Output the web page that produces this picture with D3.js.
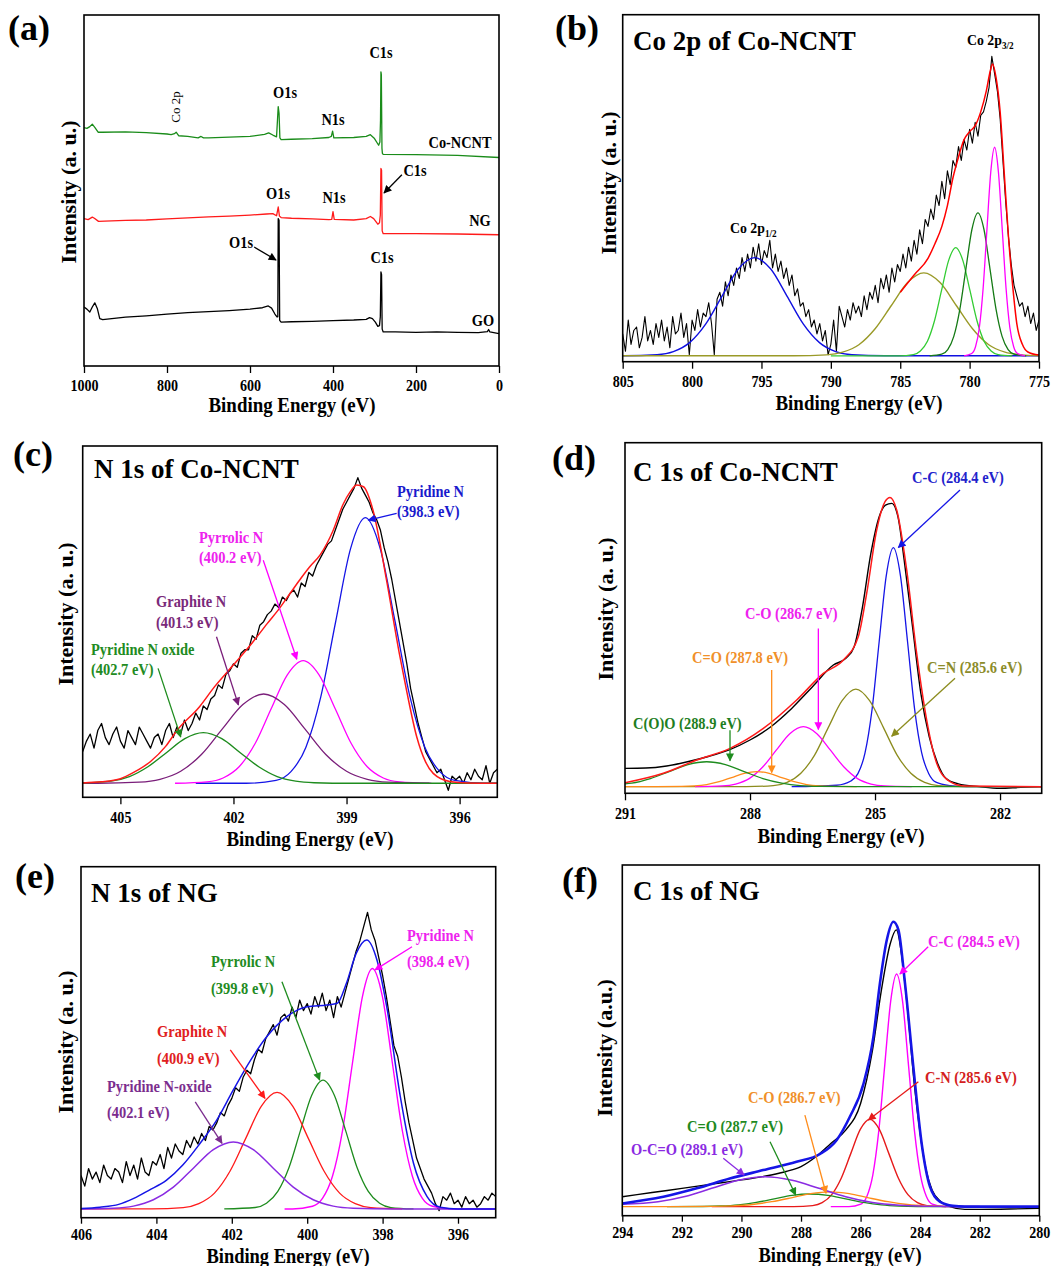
<!DOCTYPE html>
<html><head><meta charset="utf-8">
<script src="https://cdn.jsdelivr.net/npm/d3@7"></script>
<style>body{margin:0;background:#fff}svg{display:block}text{font-family:"Liberation Serif","Times New Roman",serif}</style>
</head><body><svg id="c" width="1057" height="1266"></svg>
<script>
// ================= DATA =================
// (a) survey spectra [binding energy eV, intensity a.u.]
const surveyCo = [[1000,67.9],[993,67.7],[986,68.2],[980,68.9],[974,68.0],[966,66.6],[955,66.6],[900,66.7],[850,66.5],[800,66.1],[790,65.9],[782,66.2],[778,66.6],[772,65.6],[750,65.4],[725,65.0],[718,65.4],[712,65.0],[700,65.0],[650,65.2],[600,65.4],[565,66.0],[555,66.4],[545,65.8],[536,65.3],[532,73.9],[530,72],[528,65.0],[525,64.5],[500,64.6],[450,64.8],[410,65.1],[404,65.4],[401,66.9],[398,65.0],[350,65.1],[320,65.4],[310,65.9],[300,64.8],[290,62.9],[287,63.8],[285.5,70],[284.5,83.8],[283.5,83],[282,62],[281,60.6],[279,60.3],[200,60.2],[100,60.0],[0,59.4]];
const surveyNG = [[1000,42.0],[990,41.7],[980,42.4],[975,42.1],[965,41.2],[950,41.3],[900,41.5],[850,41.6],[800,41.9],[750,42.2],[700,42.5],[650,42.7],[600,43.0],[560,43.3],[545,43.4],[536,42.8],[532,45.3],[529,42.7],[525,42.3],[500,42.1],[450,41.9],[410,41.7],[403,41.8],[400,44.0],[397,41.8],[350,41.6],[320,42.0],[310,42.6],[302,42.0],[292,40.4],[288,40.8],[286,43],[284.5,56.3],[283,55.8],[281.5,38.5],[279,37.7],[200,37.7],[100,37.6],[0,37.4]];
const surveyGO = [[1000,16.8],[993,16.2],[986,15.4],[980,16.8],[974,18.0],[968,16.4],[962,13.5],[955,13.2],[900,13.9],[850,14.3],[800,14.8],[750,15.2],[700,15.5],[650,15.8],[600,16.2],[570,16.6],[556,17.1],[548,16.5],[540,14.8],[535,14.0],[533,14.0],[532,42.0],[530,41.5],[528.5,13.0],[525,12.5],[500,12.6],[450,12.7],[400,12.9],[350,13.1],[320,13.3],[312,13.8],[305,13.5],[298,12.5],[292,11.3],[288,11.5],[286,14],[284.5,26.8],[283,26.0],[281.5,10.5],[279,9.7],[250,9.7],[200,9.6],[150,9.7],[100,9.6],[50,9.5],[28,9.8],[25,10.4],[22,9.7],[0,9.2]];
const ticksA = [1000,800,600,400,200,0];

// (b) Co 2p of Co-NCNT: raw counts from 805 eV, 0.2 eV steps
const bStart = 805, bStep = 0.2;
const bData = [8,3,12,5,9, 10,4,7,13,6, 9,5,11,7,12, 6,10,4,13,8, 9,14,7,11,2, 12,9,15,10,14, 13,17,11,2,18, 20,16,23,19,25, 22,27,24,30,26, 31,27,33,29,34, 28,32,30,35,27, 31,26,29,24,27, 22,25,19,21,16, 17,13,15,10,12, 8,11,6,9,2, 5,12,3,16,13, 10,15,12,17,14, 16,13,19,15,20, 18,22,17,24,21, 25,20,27,23,28, 26,31,27,33,29, 35,31,38,34,41, 39,44,41,48,45, 52,47,55,51,58, 56,62,58,64,61, 67,63,69,65,71, 72,75,79,88,83, 78,70,58,46,36, 28,22,19,16,17, 13,16,11,14,9, 12];
const bBlue = [[805,1.7],[804.86,1.7],[802.52,2.0],[801.35,2.9],[800.18,5.5],[799.01,10.9],[797.84,18.9],[796.67,26.7],[795.5,30.0],[794.33,26.7],[793.16,18.9],[791.99,10.9],[790.82,5.5],[789.65,2.9],[788.48,2.0],[786.14,1.7],[775,1.7]];
const bOlive = [[805,1.7],[792.66,1.7],[790.32,1.97],[789.15,2.75],[787.98,4.9],[786.81,9.5],[785.64,16.2],[784.47,22.8],[783.3,25.6],[782.13,22.8],[780.96,16.2],[779.79,9.5],[778.62,4.9],[777.45,2.75],[776.28,1.97],[775,1.7]];
const bLime = [[790,1.7],[785.08,1.7],[784.06,2.05],[783.55,3.1],[783.04,5.9],[782.53,11.8],[782.02,20.6],[781.51,29.2],[781.0,32.9],[780.49,29.2],[779.98,20.6],[779.47,11.8],[778.96,5.9],[778.45,3.1],[777.94,2.05],[776.92,1.7]];
const bDarkGreen = [[782.88,1.7],[782.01,2.16],[781.575,3.5],[781.14,7.3],[780.705,15.1],[780.27,26.7],[779.835,38.1],[779.4,42.9],[778.965,38.1],[778.53,26.7],[778.095,15.1],[777.66,7.3],[777.225,3.5],[776.79,2.16],[775.92,1.7]];
const bMagenta = [[780.4,1.7],[779.85,2.37],[779.575,4.3],[779.3,9.8],[779.025,21.2],[778.75,38.2],[778.475,54.7],[778.2,61.8],[777.925,54.7],[777.65,38.2],[777.375,21.2],[777.1,9.8],[776.825,4.3],[776.55,2.37],[776.0,1.7]];
const bFit = [[785,20],[784,25],[783,29.8],[782.5,34],[782,39],[781.6,45],[781.2,53],[780.8,59],[780.4,64],[780,66.3],[779.6,68],[779.2,72],[778.8,78],[778.5,84],[778.35,85.8],[778.1,82],[777.8,72],[777.5,54],[777.2,36],[776.9,22],[776.6,11],[776.2,5],[775.8,2.8],[775,1.9]];
const ticksB = [805,800,795,790,785,780,775];

// (c) N 1s of Co-NCNT: raw from 406 eV, 0.1 eV steps
const cStart = 406, cStep = 0.1;
const cData = [13,16,18,14,19,21,17,15,18,20, 16,14,19,17,15,20,18,16,14,17, 18,15,19,21,17,20,18,22,19,21, 24,22,26,25,28,29,32,31,35,36, 38,37,41,42,42,46,45,49,50,52, 53,55,54,57,56,58,59,57,61,60, 64,63,66,68,70,72,73,76,79,82, 84,86,88,91,88,86,84,81,79,76, 71,67,62,56,50,44,38,31,26,21, 17,13,11,9,7,8,5,2,6,5, 6,4,7,5,8,6,5,9,4,7, 8];
const cPyridine = [[403,4.0],[401.66,4.0],[400.87,4.8],[400.475,7.3],[400.08,14.2],[399.685,28.5],[399.29,49.9],[398.895,70.7],[398.5,79.6],[398.105,70.7],[397.71,49.9],[397.315,28.5],[396.92,14.2],[396.525,7.3],[396.13,4.8],[395.34,4.0],[395,4.0]];
const cPyrrolic = [[403.55,4.0],[402.7,4.4],[402.275,5.5],[401.85,8.7],[401.425,15.3],[401.0,25.2],[400.575,34.8],[400.15,38.9],[399.725,34.8],[399.3,25.2],[398.875,15.3],[398.45,8.7],[398.025,5.5],[397.6,4.4],[396.75,4.0]];
const cGraphite = [[406,4.0],[405.6,4.0],[404.5,4.3],[403.95,5.1],[403.4,7.4],[402.85,12.2],[402.3,19.4],[401.75,26.4],[401.2,29.4],[400.65,26.4],[400.1,19.4],[399.55,12.2],[399.0,7.4],[398.45,5.1],[397.9,4.3],[396.8,4.0]];
const cOxide = [[406,4.1],[405.25,4.6],[404.76,5.9],[404.27,8.7],[403.78,12.7],[403.29,16.7],[402.8,18.4],[402.31,16.7],[401.82,12.7],[401.33,8.7],[400.84,5.9],[400.35,4.6],[399.86,4.16],[398.88,4.0],[395,4.0]];
const cFit = [[406,4.1],[405.5,4.4],[405,5.3],[404.66,7.0],[404.2,10.2],[403.8,14.5],[403.5,19],[402.9,25.8],[402.5,31.5],[402,37.7],[401.5,44],[401.1,49.5],[400.8,53.5],[400.5,58],[400.2,62.5],[399.97,65.7],[399.7,69],[399.35,76.1],[399.1,83.2],[398.9,87],[398.73,88.9],[398.55,88.4],[398.3,81.8],[397.94,61.9],[397.6,41],[397.4,30],[397.14,17.3],[396.9,10],[396.7,6.8],[396.26,4.5],[395.8,4.1],[395,4.0]];
const ticksC = [405,402,399,396];

// (d) C 1s of Co-NCNT
const dData = [[291,7.1],[290.5,7.2],[290,7.8],[289.5,9.0],[289,10.5],[288.5,12.4],[288,15.2],[287.5,19.0],[287,24.2],[286.5,30.4],[286,36.6],[285.7,38.5],[285.5,41.8],[285.3,53.2],[285.1,68.4],[284.9,78.9],[284.75,82.2],[284.6,82.7],[284.45,78.9],[284.3,66.5],[284.1,47.5],[283.9,28.5],[283.7,16.2],[283.5,8.6],[283.3,4.3],[283,2.7],[282.5,1.9],[282,1.4],[281.5,1.7],[281,1.9]];
const dCC = [[287,1.9],[285.92,2.3],[285.58,3.5],[285.41,5.6],[285.24,11.5],[285.07,24.0],[284.9,43.3],[284.73,62.1],[284.56,70.1],[284.39,62.1],[284.22,43.3],[284.05,24.0],[283.88,11.5],[283.71,5.6],[283.54,3.2],[283.2,2.2],[282.8,1.9],[281,1.9]];
const dCN = [[291,1.9],[288.1,1.9],[287.44,2.2],[287.11,3.1],[286.78,5.7],[286.45,10.9],[286.12,18.8],[285.79,26.4],[285.46,29.7],[285.13,26.4],[284.8,18.8],[284.47,10.9],[284.14,5.7],[283.81,3.1],[283.48,2.2],[282.82,1.9],[281,1.9]];
const dCO = [[289.32,1.9],[288.67,2.1],[288.345,2.65],[288.02,4.2],[287.695,7.5],[287.37,12.3],[287.045,17.0],[286.72,19.0],[286.395,17.0],[286.07,12.3],[285.745,7.5],[285.42,4.2],[285.095,2.65],[284.77,2.1],[284.12,1.9]];
const dCdO = [[291,1.9],[290.24,1.9],[289.64,1.95],[289.34,2.1],[289.04,2.5],[288.74,3.3],[288.44,4.5],[288.14,5.7],[287.84,6.2],[287.54,5.7],[287.24,4.5],[286.94,3.3],[286.64,2.5],[286.34,2.1],[286.04,1.95],[285.44,1.9]];
const dCOO = [[291,2.7],[290.84,2.9],[290.39,4.2],[289.94,6.2],[289.49,8.2],[289.04,9.0],[288.59,8.2],[288.14,6.2],[287.69,4.2],[287.24,2.9],[286.79,2.2],[286.34,1.98],[285.44,1.9],[281,1.9]];
const dFit = [[291,3.0],[290.08,5.7],[289.28,9.5],[288.48,12.8],[287.68,18.5],[286.88,26.6],[286.24,34.2],[285.76,38],[285.4,44.7],[285.2,57],[284.96,75.1],[284.76,83.2],[284.64,84.4],[284.48,80.8],[284.24,63.7],[284,39.9],[283.76,20.9],[283.52,8.6],[283.2,3.3],[282.88,2.1],[281,1.9]];
const ticksD = [291,288,285,282];

// (e) N 1s of NG: raw from 406 eV, 0.1 eV steps
const eStart = 406, eStep = 0.1;
const eData = [12,9,14,11,13,10,15,12,11,14, 13,10,16,12,15,11,17,13,12,16, 15,18,14,20,17,21,19,18,22,20, 23,21,24,22,26,25,27,30,29,32, 34,37,36,40,42,41,45,48,47,51, 53,55,52,57,58,56,60,57,62,59, 61,58,63,60,64,59,62,57,63,60, 64,68,72,76,79,83,87,82,79,74, 69,63,56,49,46,40,33,27,22,17, 14,11,9,7,4,2,6,5,7,4, 5,3,6,4,5,3,4,6,5,7, 6];
const ePyridine = [[400.6,2.5],[400.39,2.5],[399.86,3.26],[399.595,5.5],[399.33,11.8],[399.065,24.7],[398.8,44.0],[398.535,63.0],[398.27,71.0],[398.005,63.0],[397.74,44.0],[397.475,24.7],[397.21,11.8],[396.945,5.5],[396.68,3.26],[396.15,2.5],[395,2.5]];
const ePyrrolic = [[402.2,2.5],[401.38,2.9],[401.08,4.1],[400.78,7.5],[400.48,14.4],[400.18,24.8],[399.88,34.9],[399.58,39.2],[399.28,34.9],[398.98,24.8],[398.68,14.4],[398.38,7.5],[398.08,4.1],[397.78,2.9],[397.18,2.5]];
const eGraphite = [[406,2.5],[404.12,2.5],[403.29,2.87],[402.875,4.0],[402.46,7.0],[402.045,13.3],[401.63,22.6],[401.215,31.8],[400.8,35.7],[400.385,31.8],[399.97,22.6],[399.555,13.3],[399.14,7.0],[398.725,4.0],[398.31,2.87],[397.48,2.5]];
const eOxide = [[406,2.5],[405.14,2.7],[404.61,3.3],[404.08,5.1],[403.55,8.7],[403.02,14.1],[402.49,19.4],[401.96,21.6],[401.43,19.4],[400.9,14.1],[400.37,8.7],[399.84,5.1],[399.31,3.3],[398.78,2.7],[397.72,2.5],[395,2.5]];
const eFit = [[406,2.6],[405.5,3.0],[405,3.8],[404.6,5.5],[404.2,7.8],[403.73,10.7],[403.3,15],[402.84,21.2],[402.4,27.8],[401.96,36.4],[401.5,44.9],[401.07,51.6],[400.54,57.3],[400.0,60.1],[399.48,60.6],[399.2,61.1],[398.96,66.8],[398.7,75.3],[398.42,79.1],[398.15,73.4],[397.89,60.1],[397.53,34.5],[397.18,15.5],[396.82,6],[396.47,2.95],[396,2.5],[395,2.5]];
const ticksE = [406,404,402,400,398,396];

// (f) C 1s of NG
const fData = [[294,5.4],[293,6.6],[292,7.8],[291,9.0],[290,10.2],[289,11.6],[288.5,12.6],[288,14],[287.5,16.8],[287,20.6],[286.5,24.4],[286,32],[285.6,47.2],[285.3,64.4],[285,77.7],[284.8,81.5],[284.6,72.9],[284.4,56.7],[284.2,37.7],[284,23.5],[283.8,13],[283.6,7.3],[283.3,4],[283,2.6],[282.5,1.8],[282,1.8],[281,1.9],[280,2.1]];
const fCC = [[287,2.6],[286.39,2.6],[285.99,3.3],[285.79,5.5],[285.59,11.6],[285.39,24.1],[285.19,42.8],[284.99,61.1],[284.79,68.9],[284.59,61.1],[284.39,42.8],[284.19,24.1],[283.99,11.6],[283.79,5.5],[283.59,3.3],[283.19,2.6],[280,2.6]];
const fCN = [[291,2.6],[288.25,2.6],[287.61,2.88],[287.29,3.7],[286.97,6.0],[286.65,10.7],[286.33,17.7],[286.01,24.6],[285.69,27.5],[285.37,24.6],[285.05,17.7],[284.73,10.7],[284.41,6.0],[284.09,3.7],[283.77,2.88],[283.13,2.6]];
const fCO = [[294,2.6],[292.23,2.6],[290.93,2.65],[290.28,2.8],[289.63,3.2],[288.98,4.0],[288.33,5.1],[287.68,6.3],[287.03,6.8],[286.38,6.3],[285.73,5.1],[285.08,4.0],[284.43,3.2],[283.78,2.8],[283.13,2.65],[281.83,2.6],[280,2.6]];
const fCdO = [[292.5,2.6],[291.3,2.64],[290.7,2.76],[290.1,3.1],[289.5,3.8],[288.9,4.8],[288.3,5.8],[287.7,6.2],[287.1,5.8],[286.5,4.8],[285.9,3.8],[285.3,3.1],[284.7,2.76],[284.1,2.64],[282.9,2.6]];
const fOCO = [[294,3.3],[292.8,4.0],[291.9,5.5],[291.0,7.8],[290.1,10.1],[289.2,11.1],[288.3,10.1],[287.4,7.8],[286.5,5.4],[285.6,3.75],[284.7,2.97],[283.8,2.7],[282,2.6]];
const fFit = [[294,3.5],[292.62,5.4],[291.5,7.8],[290.39,10.6],[289.27,13.0],[288.15,15.4],[287.36,17.6],[286.8,21.6],[286.36,28.2],[285.9,37.7],[285.57,51],[285.35,66.3],[285.12,78.6],[284.9,83.8],[284.73,81.5],[284.51,66.3],[284.23,42.5],[283.95,20.6],[283.67,8.3],[283.34,4],[282.9,2.8],[282.5,2.6],[280,2.6]];
const ticksF = [294,292,290,288,286,284,282,280];

// ================= LAYOUT =================
const frames = {
  a:{l:84,t:15,r:499,b:366}, b:{l:622.7,t:14.7,r:1039,b:361.7},
  c:{l:82.7,t:446,r:497.3,b:797.3}, d:{l:625,t:442.7,r:1041.7,b:793.3},
  e:{l:81,t:866.7,r:495.7,b:1217.7}, f:{l:622.3,t:865,r:1039.3,b:1215.7}
};
const svg = d3.select('#c');
const defs = svg.append('defs');

function label(x, y, t, o = {}) {
  const g = svg.append('g').attr('transform', `translate(${x},${y})` + (o.rot ? ` rotate(${o.rot})` : ''));
  const tx = g.append('text').attr('transform', `scale(${o.sx || 1},1)`)
    .attr('font-size', o.size || 17).attr('fill', o.color || '#000')
    .attr('text-anchor', o.anchor || 'start').attr('font-weight', o.weight || 'bold').text(t);
  if (o.sub) tx.append('tspan').attr('font-size', o.subSize || 10).attr('dy', 4).text(o.sub);
  return tx;
}
function marker(color) {
  const id = 'm' + color.replace('#', '');
  if (defs.select('#' + id).empty()) {
    defs.append('marker').attr('id', id).attr('viewBox', '0 0 10 10').attr('refX', 9).attr('refY', 5)
      .attr('markerWidth', 9).attr('markerHeight', 8).attr('markerUnits', 'userSpaceOnUse').attr('orient', 'auto')
      .append('path').attr('d', 'M0,0L10,5L0,10z').attr('fill', color);
  }
  return id;
}
function panel(key, xDomain, ticks, tickSize, tickPad) {
  const f = frames[key];
  const x = d3.scaleLinear().domain(xDomain).range([f.l, f.r]);
  const y = d3.scaleLinear().domain([0, 100]).range([f.b, f.t]);
  defs.append('clipPath').attr('id', 'clip' + key).append('rect')
    .attr('x', f.l).attr('y', f.t).attr('width', f.r - f.l).attr('height', f.b - f.t);
  const g = svg.append('g');
  const plot = g.append('g').attr('clip-path', `url(#clip${key})`);
  const ax = d3.axisBottom(x).tickValues(ticks).tickSize(tickSize || 7).tickPadding(tickPad || 7).tickFormat(d3.format('d'));
  g.append('g').attr('transform', `translate(0,${f.b})`).call(ax).call(s => {
    s.select('.domain').remove();
    s.selectAll('line').attr('stroke', '#000').attr('stroke-width', 1.3);
    s.selectAll('text').attr('font-size', 16).attr('font-weight', 'bold').attr('fill', '#000')
      .attr('transform', 'scale(0.88,1)');
  });
  g.append('rect').attr('x', f.l).attr('y', f.t).attr('width', f.r - f.l).attr('height', f.b - f.t)
    .attr('fill', 'none').attr('stroke', '#000').attr('stroke-width', 1.6);
  const P = {x, y, g, plot};
  P.line = (pts, color, w, curve) => plot.append('path').datum(pts)
    .attr('d', d3.line().x(d => x(d[0])).y(d => y(d[1])).curve(curve || d3.curveMonotoneX))
    .attr('fill', 'none').attr('stroke', color).attr('stroke-width', w || 1.3).attr('stroke-linejoin', 'round');
  P.raw = (start, step, vals, color, w) => P.line(vals.map((v, i) => [start - i * step, v]), color, w || 1.2, d3.curveLinear);
  P.arrow = (from, to, color) => g.append('line')
    .attr('x1', x(from[0])).attr('y1', y(from[1])).attr('x2', x(to[0])).attr('y2', y(to[1]))
    .attr('stroke', color).attr('stroke-width', 1.3).attr('marker-end', `url(#${marker(color)})`);
  return P;
}
const AX = {size: 22, sx: 0.86, anchor: 'middle'};
const AXs = {size: 21, sx: 0.88, anchor: 'middle'};
const YT = {size: 22, rot: -90, anchor: 'middle'};
const LB = {size: 17, sx: 0.85};
const TT = {size: 27};
const LT = {size: 36};

// ---------- (a) ----------
const A = panel('a', [1000, 0], ticksA);
A.line(surveyGO, '#000', 1.3, d3.curveLinear);
A.line(surveyNG, '#ff1a1a', 1.3, d3.curveLinear);
A.line(surveyCo, '#1a8c1a', 1.3, d3.curveLinear);
A.arrow([234, 54.5], [277, 49.3], '#000');
A.arrow([590, 33.9], [537.3, 30.2], '#000');
label(8, 40, '(a)', LT);
label(76, 192, 'Intensity (a. u.)', YT);
label(292, 412, 'Binding Energy (eV)', AX);
const AL = {size: 16.5, sx: 0.87, anchor: 'middle'};
label(381, 58, 'C1s', AL); label(285, 98, 'O1s', AL); label(333, 125, 'N1s', AL);
label(460, 148, 'Co-NCNT', AL);
label(278, 199, 'O1s', AL); label(334, 203, 'N1s', AL); label(415, 176, 'C1s', AL);
label(480, 226, 'NG', AL);
label(241, 248, 'O1s', AL); label(382, 263, 'C1s', AL); label(483, 326, 'GO', AL);
label(180, 107, 'Co 2p', {size: 13, rot: -90, anchor: 'middle', weight: 'normal'});

// ---------- (b) ----------
const B = panel('b', [805, 775], ticksB);
B.raw(bStart, bStep, bData, '#000', 1.1);
B.line(bBlue, '#1010e0', 1.4);
B.line(bOlive, '#9a9a28', 1.4);
B.line(bLime, '#33cc33', 1.3);
B.line(bDarkGreen, '#157a15', 1.3);
B.line(bMagenta, '#ff00ff', 1.3);
B.line(bFit, '#ff0000', 1.5);
label(555, 40, '(b)', LT);
label(633, 50, 'Co 2p of Co-NCNT', TT);
label(616, 183, 'Intensity (a. u.)', YT);
label(859, 410, 'Binding Energy (eV)', AX);
label(967, 45, 'Co 2p', {size: 15, sx: 0.92, sub: '3/2', subSize: 10});
label(730, 233, 'Co 2p', {size: 15, sx: 0.92, sub: '1/2', subSize: 10});

// ---------- (c) ----------
const C = panel('c', [406, 395], ticksC);
C.raw(cStart, cStep, cData, '#000', 1.3);
C.line(cPyridine, '#1515e6', 1.3);
C.line(cPyrrolic, '#ff00ff', 1.3);
C.line(cGraphite, '#7a1e7a', 1.3);
C.line(cOxide, '#1e8c1e', 1.4);
C.line(cFit, '#ff1a1a', 1.5);
C.arrow([397.67, 80.8], [398.42, 78.9], '#1515e6');
C.arrow([401.21, 67.5], [400.32, 39.3], '#ff00ff');
C.arrow([402.45, 45.7], [401.87, 26.3], '#7a1e7a');
C.arrow([404.0, 36.7], [403.4, 17.2], '#1e8c1e');
label(13, 466, '(c)', LT);
label(94, 478, 'N 1s of Co-NCNT', TT);
label(73, 614, 'Intensity (a. u.)', YT);
label(310, 846, 'Binding Energy (eV)', AX);
label(397, 497, 'Pyridine N', {...LB, color: '#1a1acc'}); label(397, 517, '(398.3 eV)', {...LB, color: '#1a1acc'});
label(199, 543, 'Pyrrolic N', {...LB, color: '#ee22ee'}); label(199, 563, '(400.2 eV)', {...LB, color: '#ee22ee'});
label(156, 607, 'Graphite N', {...LB, color: '#7a2a7a'}); label(156, 628, '(401.3 eV)', {...LB, color: '#7a2a7a'});
label(91, 655, 'Pyridine N oxide', {...LB, color: '#228b22'}); label(91, 675, '(402.7 eV)', {...LB, color: '#228b22'});

// ---------- (d) ----------
const D = panel('d', [291, 281], ticksD);
D.line(dData, '#000', 1.4);
D.line(dCC, '#1515e6', 1.3);
D.line(dCN, '#8c8c1e', 1.3);
D.line(dCO, '#ff00ff', 1.3);
D.line(dCdO, '#ff8c1a', 1.3);
D.line(dCOO, '#1e8c1e', 1.3);
D.line(dFit, '#ff1a1a', 1.5);
D.arrow([282.96, 86.5], [284.44, 70.1], '#1515e6');
D.arrow([286.36, 47.0], [286.36, 18.2], '#ff00ff');
D.arrow([287.48, 35.2], [287.48, 5.9], '#ff8c1a');
D.arrow([283.08, 32.8], [284.6, 16.3], '#8c8c1e');
D.arrow([288.48, 18.0], [288.48, 9.3], '#1e8c1e');
label(552, 470, '(d)', LT);
label(633, 481, 'C 1s of Co-NCNT', TT);
label(613, 609, 'Intensity (a. u.)', YT);
label(841, 843, 'Binding Energy (eV)', AX);
label(912, 483, 'C-C (284.4 eV)', {...LB, color: '#2222cc'});
label(745, 619, 'C-O (286.7 eV)', {...LB, color: '#ee22ee'});
label(692, 663, 'C=O (287.8 eV)', {...LB, color: '#f0902a'});
label(927, 673, 'C=N (285.6 eV)', {...LB, color: '#8c8c2a'});
label(633, 729, 'C(O)O (288.9 eV)', {...LB, color: '#1e7e1e'});

// ---------- (e) ----------
const E = panel('e', [406, 395], ticksE, 6, 5);
E.raw(eStart, eStep, eData, '#000', 1.3);
E.line(ePyridine, '#ff00ff', 1.4);
E.line(ePyrrolic, '#1e8c1e', 1.3);
E.line(eGraphite, '#ff1a1a', 1.3);
E.line(eOxide, '#8a2be2', 1.5);
E.line(eFit, '#1515e6', 1.5);
E.arrow([397.22, 77.2], [398.2, 70.6], '#ff00ff');
E.arrow([400.67, 67.2], [399.67, 39.2], '#1e8c1e');
E.arrow([402.04, 47.8], [401.12, 34.0], '#ff1a1a');
E.arrow([402.97, 33.0], [402.26, 21.2], '#7b2d8e');
label(15, 888, '(e)', LT);
label(91, 902, 'N 1s of NG', TT);
label(73, 1042, 'Intensity (a. u.)', YT);
label(288, 1263, 'Binding Energy (eV)', AXs);
label(407, 941, 'Pyridine N', {...LB, color: '#ee22ee'}); label(407, 967, '(398.4 eV)', {...LB, color: '#ee22ee'});
label(211, 967, 'Pyrrolic N', {...LB, color: '#228b22'}); label(211, 994, '(399.8 eV)', {...LB, color: '#228b22'});
label(157, 1037, 'Graphite N', {...LB, color: '#e02020'}); label(157, 1064, '(400.9 eV)', {...LB, color: '#e02020'});
label(107, 1092, 'Pyridine N-oxide', {...LB, color: '#7b2d8e'}); label(107, 1118, '(402.1 eV)', {...LB, color: '#7b2d8e'});

// ---------- (f) ----------
const F = panel('f', [294, 280], ticksF, 6, 5);
F.line(fData, '#000', 1.4);
F.line(fCC, '#ff00ff', 1.4);
F.line(fCN, '#e61a1a', 1.4);
F.line(fCdO, '#1e8c1e', 1.4);
F.line(fCO, '#ff8c1a', 1.4);
F.line(fOCO, '#8a2be2', 1.6);
F.line(fFit, '#1515e6', 2.6);
F.arrow([283.73, 76.7], [284.68, 68.9], '#ff00ff');
F.arrow([284.06, 38.2], [285.74, 27.3], '#e61a1a');
F.arrow([287.87, 28.7], [287.16, 6.4], '#ff8c1a');
F.arrow([289.04, 21.1], [288.18, 5.9], '#1e8c1e');
F.arrow([290.61, 16.4], [289.91, 11.6], '#8a2be2');
label(562, 892, '(f)', LT);
label(633, 900, 'C 1s of NG', TT);
label(612, 1048, 'Intensity (a.u.)', YT);
label(840, 1262, 'Binding Energy (eV)', AXs);
label(928, 947, 'C-C (284.5 eV)', {...LB, color: '#ee22ee'});
label(925, 1083, 'C-N (285.6 eV)', {...LB, color: '#d42020'});
label(748, 1103, 'C-O (286.7 eV)', {...LB, color: '#f0902a'});
label(687, 1132, 'C=O (287.7 eV)', {...LB, color: '#1e8a1e'});
label(631, 1155, 'O-C=O (289.1 eV)', {...LB, color: '#8a2be2'});
</script></body></html>
